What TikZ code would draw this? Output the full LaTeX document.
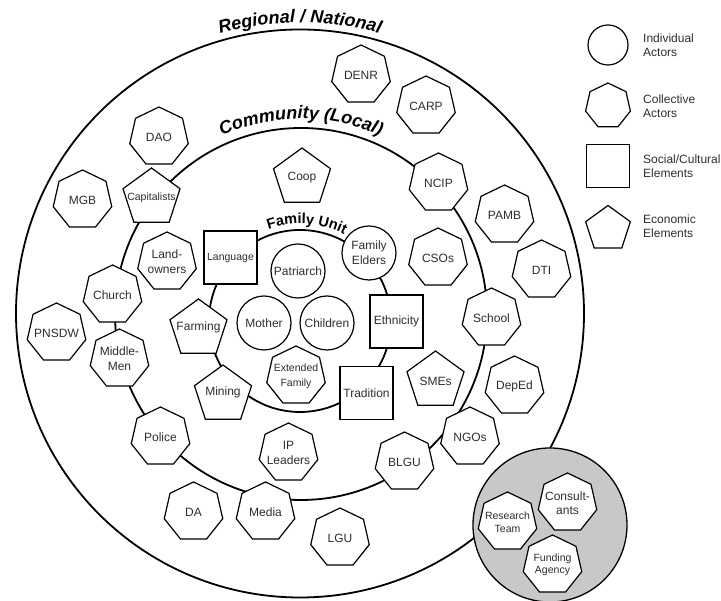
\documentclass[tikz,border=0pt]{standalone}
\usepackage{fontspec}
\setmainfont{Liberation Sans}
\usetikzlibrary{shapes.geometric,decorations.text}
\definecolor{txtgray}{HTML}{2E2E2E}
\definecolor{fillgray}{HTML}{C8C8C8}
\tikzset{
  ring/.style={circle, draw=black, line width=1.8pt, inner sep=0pt},
  hept/.style={regular polygon, regular polygon sides=7, draw=black, line width=1.2pt, fill=white, minimum size=60pt, inner sep=0pt},
  pent/.style={regular polygon, regular polygon sides=5, draw=black, line width=1.2pt, fill=white, minimum size=60pt, inner sep=0pt},
  sq/.style={rectangle, draw=black, line width=1.2pt, fill=white, minimum size=53pt, inner sep=0pt},
  actor/.style={circle, draw=black, line width=1.2pt, fill=white, minimum size=54pt, inner sep=0pt},
  lbl/.style={text=txtgray, font=\fontsize{12}{15}\selectfont, align=center, inner sep=0pt},
  slbl/.style={text=txtgray, font=\fontsize{10.5}{13}\selectfont, align=center, inner sep=0pt},
  legtxt/.style={text=txtgray, font=\fontsize{12}{14}\selectfont, align=left, inner sep=0pt, anchor=west},
}
\newcommand\bigtitle{\bfseries\itshape\fontsize{18}{18}\selectfont}
\newcommand\famtitle{\bfseries\fontsize{14.5}{14.5}\selectfont}
\begin{document}
\begin{tikzpicture}[x=1pt,y=1pt]
\useasboundingbox (0,0) rectangle (721,601);

% rings
\node[ring, minimum size=568pt] (regional) at (300,287.5) {};
\node[ring, minimum size=372pt] (community) at (301,287) {};
\node[ring, minimum size=182pt] (family) at (300,280) {};

% ring titles
\path[decorate, decoration={text along path, text align=center, text={|\bigtitle|Regional / National}}]
  (regional.center) ++(140:291) arc[start angle=140, end angle=40, radius=291];
\path[decorate, decoration={text along path, text align=center, text={|\bigtitle|Community (Local)}}]
  (community.center) ++(150:195) arc[start angle=150, end angle=30, radius=195];
\path[decorate, decoration={text along path, text align=center, text={|\famtitle|Family Unit}}]
  (family.center) ++(146:97) arc[start angle=146, end angle=26, radius=97];

% collective actors (heptagons)
\node[hept] (denr) at (361,526) {};      \node[lbl] (denr-t) at (denr) {DENR};
\node[hept] (carp) at (426,495) {};      \node[lbl] (carp-t) at (carp) {CARP};
\node[hept] (dao) at (159,464) {};       \node[lbl] (dao-t) at (dao) {DAO};
\node[hept] (mgb) at (82.5,401) {};      \node[lbl] (mgb-t) at (mgb) {MGB};
\node[hept] (ncip) at (438.5,418) {};    \node[lbl] (ncip-t) at (ncip) {NCIP};
\node[hept] (pamb) at (504.5,386) {};    \node[lbl] (pamb-t) at (pamb) {PAMB};
\node[hept] (csos) at (438,343) {};      \node[lbl] (csos-t) at (csos) {CSOs};
\node[hept] (dti) at (541.5,331) {};     \node[lbl] (dti-t) at (dti) {DTI};
\node[hept] (land) at (167,339) {};      \node[lbl] (land-t) at (land) {Land-\\owners};
\node[hept] (church) at (112.5,306) {};  \node[lbl] (church-t) at (church) {Church};
\node[hept] (pnsdw) at (56.5,268) {};    \node[lbl] (pnsdw-t) at (pnsdw) {PNSDW};
\node[hept] (middle) at (119.5,242) {};  \node[lbl] (middle-t) at (middle) {Middle-\\Men};
\node[hept] (police) at (160.5,164) {};  \node[lbl] (police-t) at (police) {Police};
\node[hept] (ip) at (288.5,148) {};      \node[lbl] (ip-t) at (ip) {IP\\Leaders};
\node[hept] (da) at (193.5,89) {};       \node[lbl] (da-t) at (da) {DA};
\node[hept] (media) at (265.5,89) {};    \node[lbl] (media-t) at (media) {Media};
\node[hept] (lgu) at (340,63) {};        \node[lbl] (lgu-t) at (lgu) {LGU};
\node[hept] (ext) at (296,225) {};       \node[slbl, font=\fontsize{10.5}{15}\selectfont] (ext-t) at (ext) {Extended\\Family};
\node[hept] (school) at (491.5,283) {};  \node[lbl] (school-t) at (school) {School};
\node[hept] (deped) at (514.5,215) {};   \node[lbl] (deped-t) at (deped) {DepEd};
\node[hept] (ngos) at (470,164) {};      \node[lbl] (ngos-t) at (ngos) {NGOs};
\node[hept] (blgu) at (404.5,139) {};    \node[lbl] (blgu-t) at (blgu) {BLGU};

% economic elements (pentagons)
\node[pent] (cap) at (151.5,403) {};     \node[slbl] (cap-t) at (cap) {Capitalists};
\node[pent] (coop) at (302,423) {};      \node[lbl] (coop-t) at (coop) {Coop};
\node[pent] (farm) at (198.5,272) {};    \node[lbl] (farm-t) at ([yshift=2pt]farm.center) {Farming};
\node[pent] (mine) at (223,206) {};      \node[lbl] (mine-t) at ([yshift=3pt]mine.center) {Mining};
\node[pent] (smes) at (435.5,220) {};    \node[lbl] (smes-t) at (smes) {SMEs};

% social/cultural elements (squares)
\node[sq] (lang) at (230.5,343.5) {};    \node[slbl] (lang-t) at (lang) {Language};
\node[sq] (eth) at (396.5,279.5) {};     \node[lbl] (eth-t) at (eth) {Ethnicity};
\node[sq] (trad) at (366.5,208) {};      \node[lbl] (trad-t) at (trad) {Tradition};

% individual actors (circles)
\node[actor] (pat) at (298,330) {};      \node[lbl] (pat-t) at (pat) {Patriarch};
\node[actor] (mom) at (264,278) {};      \node[lbl] (mom-t) at (mom) {Mother};
\node[actor] (kids) at (327,278) {};     \node[lbl] (kids-t) at (kids) {Children};
\node[actor] (elders) at (369,348) {};   \node[lbl] (elders-t) at (elders) {Family\\Elders};

% external team
\node[ring, fill=fillgray, line width=1.3pt, minimum size=154pt] (team) at (550,76) {};
\node[hept] (research) at (507.5,79) {}; \node[slbl] (research-t) at (research) {Research\\Team};
\node[hept] (consult) at (567.5,98) {};  \node[lbl, font=\fontsize{12}{13.5}\selectfont] (consult-t) at (consult) {Consult-\\ants};
\node[hept] (fund) at (552.5,36) {};     \node[slbl, font=\fontsize{10.5}{12}\selectfont] (fund-t) at (fund) {Funding\\Agency};

% legend
\node[actor, minimum size=40pt] (lg-ind) at (608,556) {};
\node[hept, minimum size=46pt] (lg-col) at (608,495) {};
\node[sq, minimum size=43pt] (lg-soc) at (608,435) {};
\node[pent, minimum size=47pt] (lg-eco) at (608,372) {};
\node[legtxt] (lg-ind-t) at (643,555.5) {Individual\\Actors};
\node[legtxt] (lg-col-t) at (643,495) {Collective\\Actors};
\node[legtxt] (lg-soc-t) at (643,435) {Social/Cultural\\Elements};
\node[legtxt] (lg-eco-t) at (643,374.5) {Economic\\Elements};
\end{tikzpicture}
\end{document}
